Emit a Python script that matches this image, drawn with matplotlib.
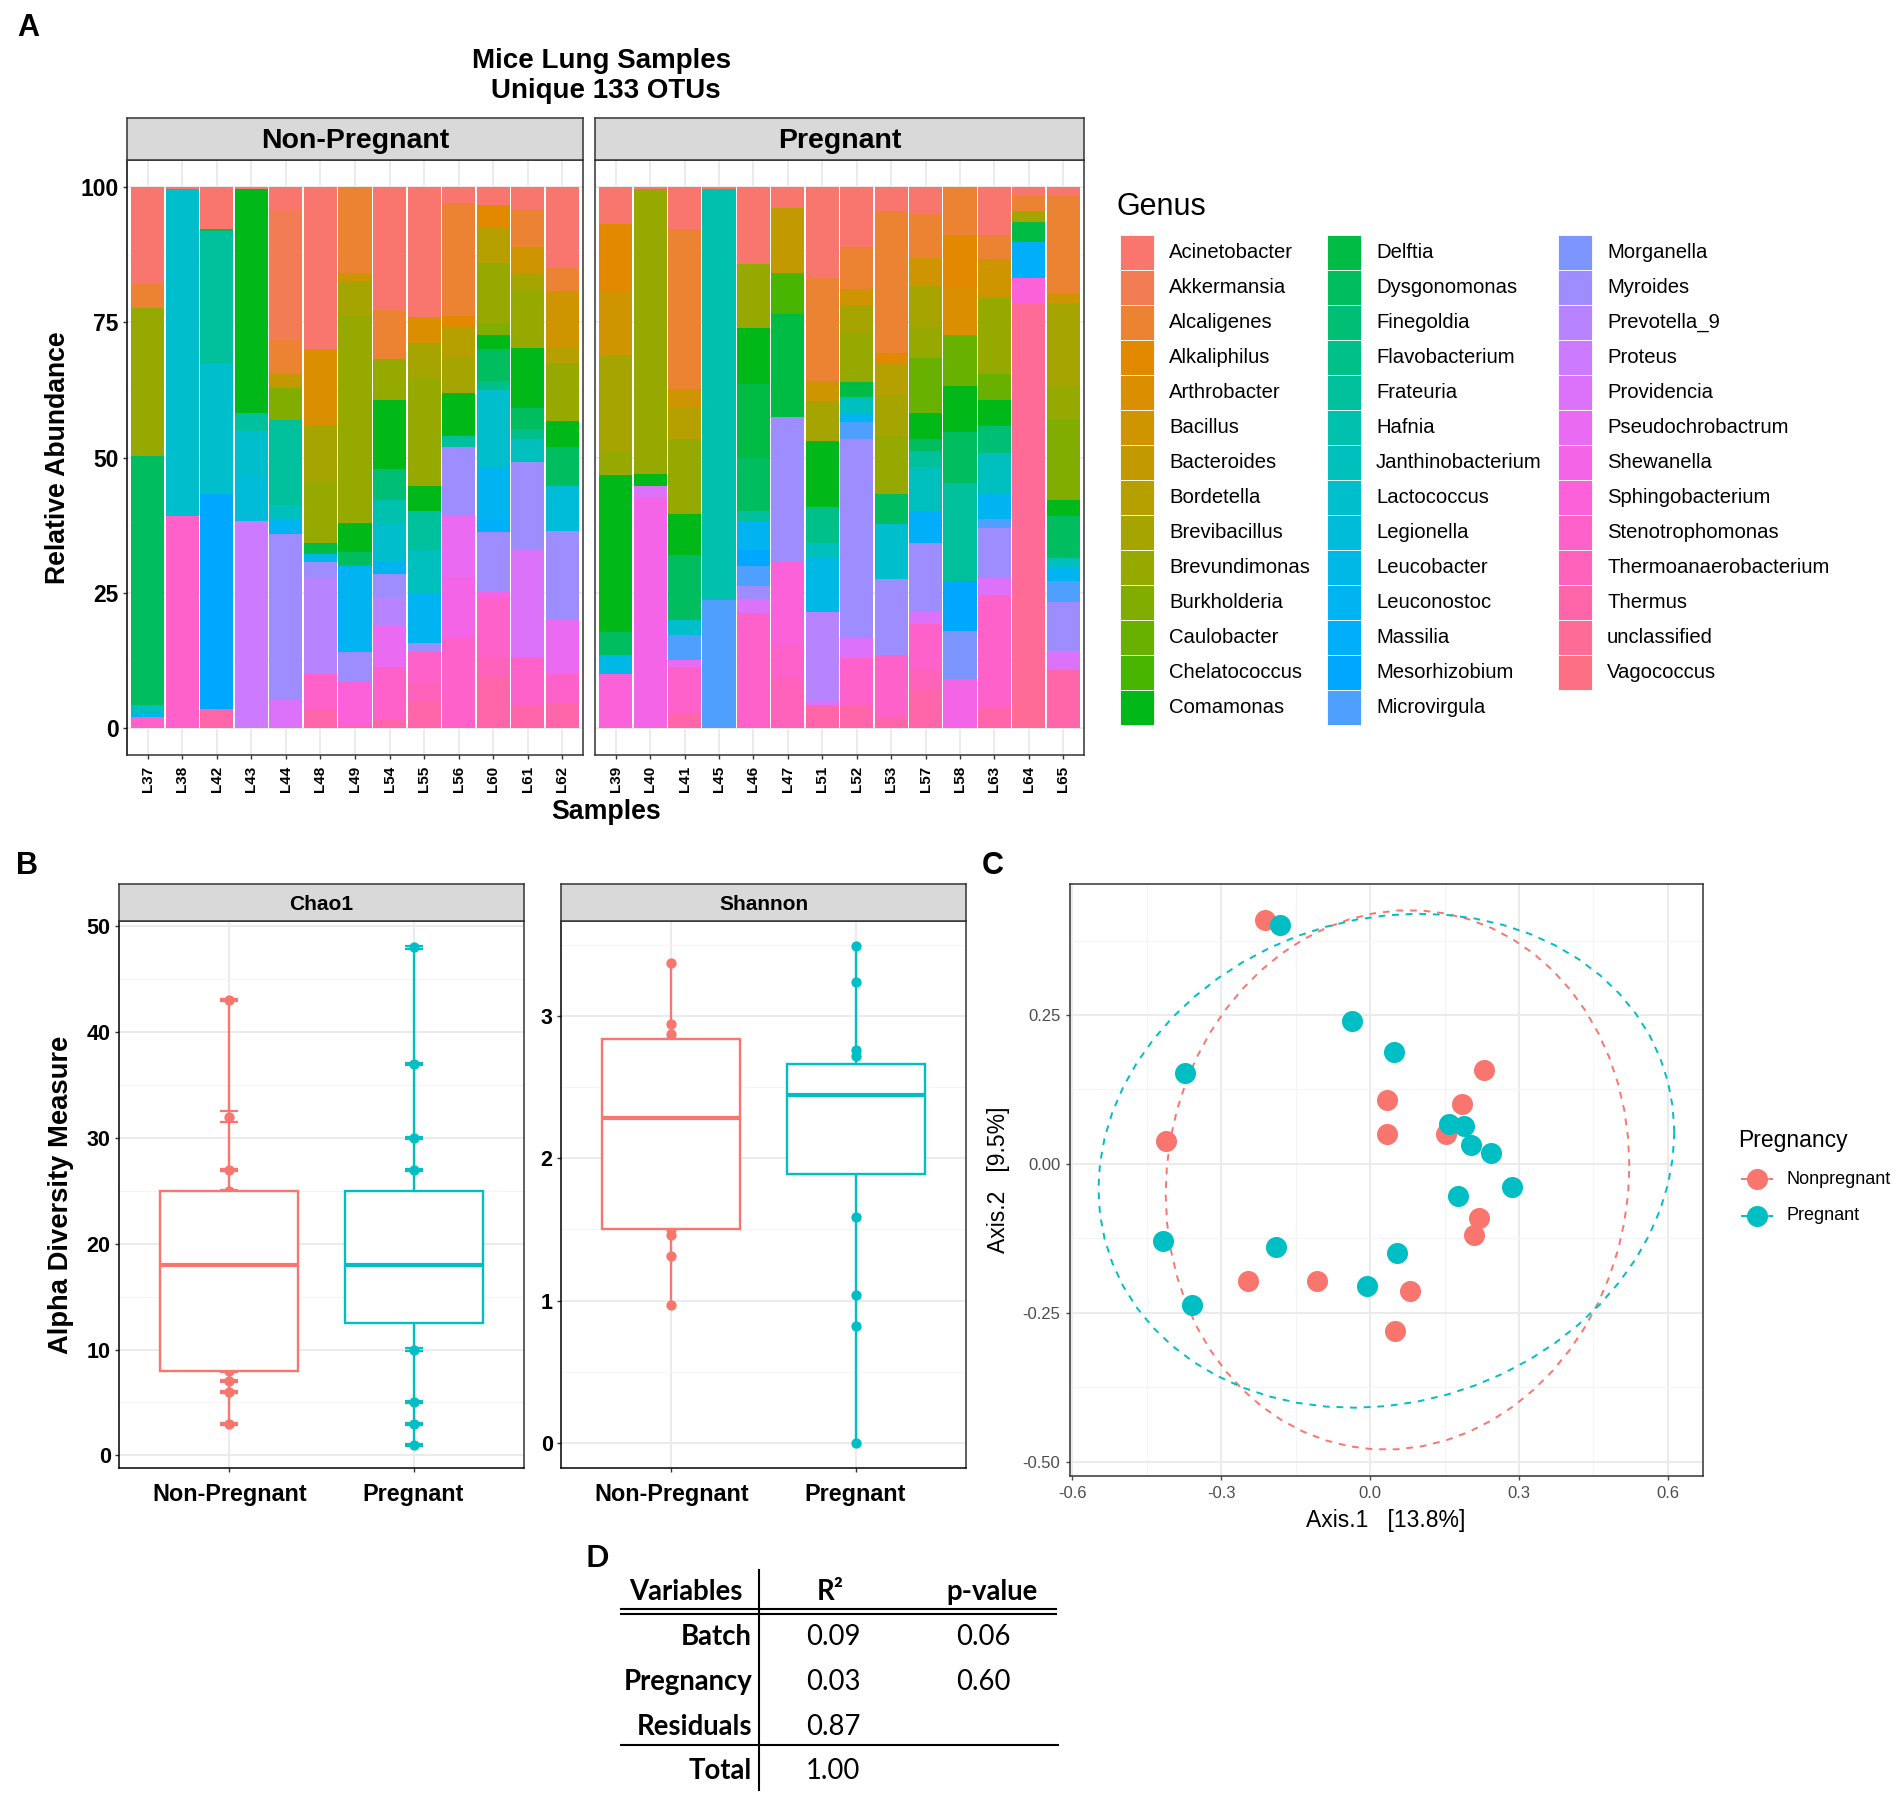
import numpy as np
import matplotlib
matplotlib.use("Agg")
import matplotlib.pyplot as plt
from matplotlib.patches import Rectangle
from matplotlib.ticker import FixedLocator

plt.rcParams['font.family'] = ['Liberation Sans', 'DejaVu Sans']

W, H = 1904, 1796

# ---------------- data ----------------
genera = ["Acinetobacter", "Akkermansia", "Alcaligenes", "Alkaliphilus", "Arthrobacter", "Bacillus",
          "Bacteroides", "Bordetella", "Brevibacillus", "Brevundimonas", "Burkholderia", "Caulobacter",
          "Chelatococcus", "Comamonas", "Delftia", "Dysgonomonas", "Finegoldia", "Flavobacterium",
          "Frateuria", "Hafnia", "Janthinobacterium", "Lactococcus", "Legionella", "Leucobacter",
          "Leuconostoc", "Massilia", "Mesorhizobium", "Microvirgula", "Morganella", "Myroides",
          "Prevotella_9", "Proteus", "Providencia", "Pseudochrobactrum", "Shewanella",
          "Sphingobacterium", "Stenotrophomonas", "Thermoanaerobacterium", "Thermus",
          "unclassified", "Vagococcus"]

samples_np = ["L37", "L38", "L42", "L43", "L44", "L48", "L49", "L54", "L55", "L56", "L60", "L61", "L62"]
samples_p = ["L39", "L40", "L41", "L45", "L46", "L47", "L51", "L52", "L53", "L57", "L58", "L63", "L64", "L65"]

# relative abundance (%) per genus
L37 = {"Acinetobacter": 18.0, "Alcaligenes": 4.3, "Brevundimonas": 27.5, "Dysgonomonas": 46.0,
       "Janthinobacterium": 1.7, "Leuconostoc": 0.5, "Stenotrophomonas": 2.0}
L38 = {"Acinetobacter": 0.3, "Lactococcus": 60.5, "Stenotrophomonas": 39.2}
L42 = {"Acinetobacter": 7.8, "Delftia": 0.3, "Frateuria": 24.4, "Lactococcus": 24.3,
       "Mesorhizobium": 39.7, "Thermus": 3.5}
L43 = {"Acinetobacter": 0.3, "Comamonas": 41.4, "Frateuria": 3.4, "Lactococcus": 8.4,
       "Legionella": 8.2, "Proteus": 38.3}
L44 = {"Acinetobacter": 4.3, "Akkermansia": 24.0, "Alcaligenes": 6.2, "Bacteroides": 2.6,
       "Burkholderia": 5.9, "Frateuria": 15.8, "Janthinobacterium": 2.7, "Leuconostoc": 2.6,
       "Myroides": 30.7, "Providencia": 5.2}
L48 = {"Acinetobacter": 30.0, "Arthrobacter": 14.1, "Brevibacillus": 10.4, "Brevundimonas": 11.3,
       "Delftia": 2.0, "Leucobacter": 1.5, "Myroides": 2.8, "Prevotella_9": 17.9,
       "Stenotrophomonas": 6.7, "Thermus": 3.3}
L49 = {"Alcaligenes": 15.8, "Bacillus": 1.5, "Brevibacillus": 6.5, "Brevundimonas": 38.3,
       "Comamonas": 5.4, "Dysgonomonas": 2.5, "Leuconostoc": 16.0, "Myroides": 5.3,
       "Sphingobacterium": 8.2, "Thermus": 0.5}
L54 = {"Acinetobacter": 22.7, "Alcaligenes": 9.1, "Brevundimonas": 7.5, "Comamonas": 12.8,
       "Finegoldia": 5.7, "Hafnia": 4.3, "Lactococcus": 7.0, "Leuconostoc": 2.4, "Myroides": 4.3,
       "Prevotella_9": 5.3, "Pseudochrobactrum": 7.7, "Stenotrophomonas": 9.7, "Thermus": 1.5}
L55 = {"Acinetobacter": 24.1, "Arthrobacter": 4.7, "Brevibacillus": 6.3, "Brevundimonas": 20.2,
       "Comamonas": 4.5, "Frateuria": 7.3, "Janthinobacterium": 8.2, "Leuconostoc": 9.0,
       "Myroides": 1.7, "Stenotrophomonas": 5.5, "Thermoanaerobacterium": 3.6, "Thermus": 4.9}
L56 = {"Acinetobacter": 2.9, "Alcaligenes": 20.9, "Alkaliphilus": 2.3, "Bordetella": 5.4,
       "Brevibacillus": 6.5, "Comamonas": 8.1, "Frateuria": 2.0, "Myroides": 12.6,
       "Pseudochrobactrum": 11.4, "Shewanella": 11.0, "Stenotrophomonas": 16.9}
L60 = {"Acinetobacter": 3.3, "Alkaliphilus": 4.2, "Bordetella": 6.5, "Brevundimonas": 11.1,
       "Burkholderia": 2.2, "Comamonas": 2.7, "Dysgonomonas": 5.8, "Flavobacterium": 1.7,
       "Lactococcus": 14.3, "Leuconostoc": 9.7, "Massilia": 2.3, "Myroides": 10.9,
       "Shewanella": 1.1, "Stenotrophomonas": 11.0, "Thermoanaerobacterium": 4.0, "Thermus": 9.2}
L61 = {"Acinetobacter": 4.3, "Alcaligenes": 6.8, "Bacillus": 5.0, "Brevibacillus": 2.7,
       "Brevundimonas": 11.0, "Comamonas": 11.0, "Dysgonomonas": 4.0, "Flavobacterium": 1.7,
       "Janthinobacterium": 4.3, "Myroides": 16.3, "Providencia": 19.7, "Stenotrophomonas": 9.2,
       "Thermus": 4.0}
L62 = {"Acinetobacter": 14.9, "Alcaligenes": 4.4, "Bacillus": 10.5, "Bordetella": 2.7,
       "Brevundimonas": 10.8, "Comamonas": 4.8, "Dysgonomonas": 7.2, "Legionella": 8.2,
       "Myroides": 16.3, "Pseudochrobactrum": 10.3, "Stenotrophomonas": 5.4, "Thermus": 4.5}

L39 = {"Acinetobacter": 6.8, "Alkaliphilus": 12.5, "Bacillus": 11.8, "Brevibacillus": 17.7,
       "Brevundimonas": 4.5, "Comamonas": 29.0, "Dysgonomonas": 4.2, "Leucobacter": 3.6,
       "Sphingobacterium": 9.9}
L40 = {"Acinetobacter": 0.3, "Brevundimonas": 52.8, "Comamonas": 2.2, "Providencia": 2.2,
       "Shewanella": 42.5}
L41 = {"Acinetobacter": 7.8, "Alcaligenes": 29.5, "Bacillus": 3.5, "Bordetella": 5.7,
       "Brevundimonas": 14.0, "Comamonas": 7.6, "Dysgonomonas": 12.0, "Lactococcus": 2.7,
       "Microvirgula": 4.7, "Pseudochrobactrum": 1.2, "Stenotrophomonas": 8.6, "Thermus": 2.7}
L45 = {"Acinetobacter": 0.3, "Hafnia": 76.0, "Microvirgula": 23.7}
L46 = {"Acinetobacter": 14.3, "Brevundimonas": 11.8, "Comamonas": 10.4, "Delftia": 13.6,
       "Dysgonomonas": 9.7, "Frateuria": 2.0, "Leuconostoc": 5.3, "Mesorhizobium": 2.9,
       "Microvirgula": 3.8, "Myroides": 2.3, "Providencia": 2.6, "Stenotrophomonas": 21.3}
L47 = {"Acinetobacter": 3.8, "Bacteroides": 12.0, "Chelatococcus": 7.7, "Delftia": 19.0,
       "Myroides": 26.6, "Sphingobacterium": 15.7, "Stenotrophomonas": 6.0,
       "Thermoanaerobacterium": 9.2}
L51 = {"Acinetobacter": 16.8, "Alcaligenes": 19.0, "Bacillus": 3.8, "Brevibacillus": 7.3,
       "Comamonas": 12.2, "Flavobacterium": 6.7, "Janthinobacterium": 2.7, "Leucobacter": 10.0,
       "Prevotella_9": 16.6, "Providencia": 0.7, "Thermus": 4.2}
L52 = {"Acinetobacter": 11.1, "Alcaligenes": 7.8, "Bacillus": 2.9, "Brevibacillus": 5.3,
       "Brevundimonas": 8.9, "Delftia": 2.8, "Janthinobacterium": 3.0, "Leuconostoc": 1.7,
       "Microvirgula": 3.0, "Myroides": 36.8, "Providencia": 3.8, "Stenotrophomonas": 8.9,
       "Thermus": 4.0}
L53 = {"Acinetobacter": 4.5, "Alcaligenes": 26.2, "Alkaliphilus": 2.0, "Bordetella": 5.8,
       "Brevibacillus": 7.5, "Brevundimonas": 10.8, "Dysgonomonas": 5.5, "Lactococcus": 10.2,
       "Myroides": 14.0, "Stenotrophomonas": 11.6, "Thermus": 1.9}
L57 = {"Acinetobacter": 4.9, "Alcaligenes": 8.2, "Bacillus": 5.2, "Brevibacillus": 7.7,
       "Brevundimonas": 5.6, "Caulobacter": 10.1, "Comamonas": 4.8, "Dysgonomonas": 2.3,
       "Frateuria": 3.0, "Janthinobacterium": 8.0, "Massilia": 6.0, "Myroides": 12.7,
       "Providencia": 2.3, "Stenotrophomonas": 8.3, "Thermoanaerobacterium": 3.7, "Thermus": 7.2}
L58 = {"Alcaligenes": 8.8, "Alkaliphilus": 9.7, "Arthrobacter": 8.8, "Caulobacter": 9.4,
       "Comamonas": 8.6, "Dysgonomonas": 9.5, "Frateuria": 18.0, "Mesorhizobium": 9.2,
       "Morganella": 8.9, "Shewanella": 9.1}
L63 = {"Acinetobacter": 8.8, "Alcaligenes": 4.5, "Bacillus": 7.2, "Brevundimonas": 14.0,
       "Caulobacter": 4.8, "Comamonas": 4.8, "Finegoldia": 5.0, "Janthinobacterium": 7.7,
       "Leuconostoc": 4.5, "Microvirgula": 1.8, "Myroides": 8.9, "Providencia": 3.5,
       "Stenotrophomonas": 20.6, "Thermus": 3.9}
L64 = {"Acinetobacter": 1.6, "Alcaligenes": 2.9, "Brevibacillus": 2.0, "Delftia": 3.6,
       "Massilia": 6.8, "Sphingobacterium": 4.6, "unclassified": 78.5}
L65 = {"Acinetobacter": 1.6, "Alcaligenes": 18.2, "Bacillus": 1.7, "Brevibacillus": 15.3,
       "Brevundimonas": 6.0, "Burkholderia": 15.0, "Comamonas": 3.0, "Dysgonomonas": 7.7,
       "Janthinobacterium": 2.0, "Leuconostoc": 2.3, "Microvirgula": 4.0, "Myroides": 9.0,
       "Providencia": 3.5, "Thermus": 10.7}

comp_np = [L37, L38, L42, L43, L44, L48, L49, L54, L55, L56, L60, L61, L62]
comp_p = [L39, L40, L41, L45, L46, L47, L51, L52, L53, L57, L58, L63, L64, L65]

# alpha diversity
groups = ["Non-Pregnant", "Pregnant"]
chao1_np = [3, 6, 7, 8, 10, 14, 18, 20, 22, 25, 27, 32, 43]
chao1_np_se = [0.1, 0.1, 0.1, 0.1, 0.1, 0.1, 0.1, 0.1, 0.1, 0.1, 0.1, 0.5, 0.1]
chao1_p = [1, 3, 5, 10, 15, 16, 17, 18, 19, 21, 23, 27, 30, 37, 48]
chao1_p_se = [0.1] * 15
shannon_np = [0.97, 1.31, 1.46, 1.50, 1.80, 2.00, 2.28, 2.50, 2.70, 2.84, 2.87, 2.94, 3.37]
shannon_p = [0.0, 0.82, 1.04, 1.59, 2.19, 2.25, 2.35, 2.44, 2.50, 2.55, 2.60, 2.72, 2.76, 3.24, 3.49]

# PCoA coordinates
pc_np_x = [-0.211, -0.412, 0.034, 0.034, 0.229, 0.185, 0.153, 0.219, 0.210, -0.246, -0.107, 0.080, 0.050]
pc_np_y = [0.410, 0.039, 0.108, 0.050, 0.157, 0.100, 0.050, -0.091, -0.120, -0.196, -0.196, -0.214, -0.281]
pc_p_x = [-0.181, -0.037, 0.049, -0.374, 0.159, 0.190, 0.204, 0.244, 0.286, 0.178, -0.417, -0.189,
          0.055, -0.006, -0.359]
pc_p_y = [0.401, 0.240, 0.188, 0.152, 0.067, 0.063, 0.032, 0.018, -0.038, -0.054, -0.130, -0.139,
          -0.149, -0.205, -0.237]

# PERMANOVA table
table_vars = ["Batch", "Pregnancy", "Residuals", "Total"]
table_r2 = ["0.09", "0.03", "0.87", "1.00"]
table_p = ["0.06", "0.60", "", ""]


# ---------------- helpers ----------------
def hue_pal(n, c=100, l=65):
    # ggplot2 default discrete palette (hcl, polar Luv)
    hues = np.linspace(15, 375, n + 1)[:-1]
    Xn, Yn, Zn = 95.047, 100.0, 108.883
    un = 4 * Xn / (Xn + 15 * Yn + 3 * Zn)
    vn = 9 * Yn / (Xn + 15 * Yn + 3 * Zn)
    M = np.array([[3.240479, -1.537150, -0.498535],
                  [-0.969256, 1.875992, 0.041556],
                  [0.055648, -0.204043, 1.057311]])
    out = []
    for h in hues:
        hr = np.deg2rad(h)
        U, V = c * np.cos(hr), c * np.sin(hr)
        Y = Yn * ((l + 16) / 116) ** 3
        u = U / (13 * l) + un
        v = V / (13 * l) + vn
        X = 9.0 * Y * u / (4 * v)
        Z = -X / 3 - 5 * Y + 3 * Y / v
        rgb = M @ np.array([X, Y, Z]) / 100
        rgb = np.where(rgb <= 0.0031308, 12.92 * rgb, 1.055 * np.abs(rgb) ** (1 / 2.4) - 0.055)
        out.append(tuple(np.clip(rgb, 0, 1)))
    return out


def ellipse_path(xs, ys, level=0.95, nu=5, segments=61):
    # same as ggplot2::stat_ellipse(type = "t"): MASS::cov.trob + F quantile radius
    pts = np.column_stack([xs, ys])
    n, p = pts.shape
    w = np.ones(n)
    loc = pts.mean(axis=0)
    for _ in range(100):
        w0 = w
        X = pts - loc
        V = (X * (w / w.sum())[:, None]).T @ X
        Q = np.einsum('ij,jk,ik->i', X, np.linalg.inv(V), X)
        w = (nu + p) / (nu + Q)
        loc = (w[:, None] * pts).sum(axis=0) / w.sum()
        if np.all(np.abs(w - w0) < 1e-4):
            break
    cov = (X * w[:, None]).T @ X / n
    d2 = n - 1
    fq = d2 / 2 * ((1 - level) ** (-2 / d2) - 1)
    radius = np.sqrt(2 * fq)
    t = np.linspace(0, 2 * np.pi, segments)
    circle = np.column_stack([np.cos(t), np.sin(t)])
    U = np.linalg.cholesky(cov).T
    e = loc + radius * circle @ U
    return e[:, 0], e[:, 1]


fig = plt.figure(figsize=(W / 100, H / 100), dpi=100)


def px_axes(x0, y0, x1, y1):
    return fig.add_axes([x0 / W, 1 - y1 / H, (x1 - x0) / W, (y1 - y0) / H])


def strip(x0, x1, y0, y1, label, size):
    s = px_axes(x0, y0, x1, y1)
    s.set_facecolor('#D9D9D9')
    s.set_xticks([])
    s.set_yticks([])
    for sp in s.spines.values():
        sp.set_color('#333333')
        sp.set_linewidth(1.1)
    s.text(0.5, 0.45, label, ha='center', va='center', fontsize=size, fontweight='bold',
           transform=s.transAxes)


def bw(ax):
    ax.set_facecolor('white')
    for sp in ax.spines.values():
        sp.set_color('#333333')
        sp.set_linewidth(1.1)
    ax.grid(True, which='major', color='#EBEBEB', linewidth=1.4)
    ax.grid(True, which='minor', color='#F4F4F4', linewidth=0.8)
    ax.set_axisbelow(True)
    ax.tick_params(which='major', color='#333333', length=3, width=1.0)
    ax.tick_params(which='minor', length=0)


pal = hue_pal(len(genera))
gcol = dict(zip(genera, pal))
c_np, c_p = hue_pal(2)

# ---------------- panel A ----------------
def draw_bars(ax, comps):
    x = np.arange(1, len(comps) + 1)
    bottom = np.zeros(len(comps))
    for g in genera[::-1]:
        vals = np.array([c.get(g, 0.0) for c in comps])
        ax.bar(x, vals, width=0.96, bottom=bottom, color=gcol[g], linewidth=0, zorder=2)
        bottom += vals


top_a, bot_a = 160, 755
for names, comps, (x0, x1), lab in [(samples_np, comp_np, (127, 583), "Non-Pregnant"),
                                     (samples_p, comp_p, (595, 1084), "Pregnant")]:
    ax = px_axes(x0, top_a, x1, bot_a)
    bw(ax)
    draw_bars(ax, comps)
    ax.set_xlim(0.4, len(names) + 0.6)
    ax.set_ylim(-5, 105)
    ax.set_xticks(np.arange(1, len(names) + 1))
    ax.set_xticklabels(names, rotation=90, fontsize=11, fontweight='bold', va='top')
    ax.yaxis.set_major_locator(FixedLocator([0, 25, 50, 75, 100]))
    ax.yaxis.set_minor_locator(FixedLocator([12.5, 37.5, 62.5, 87.5]))
    ax.tick_params(axis='x', pad=5)
    if lab == "Non-Pregnant":
        ax.set_yticklabels(["0", "25", "50", "75", "100"], fontsize=16.5, fontweight='bold')
        ax.tick_params(axis='y', pad=3)
        ax.spines['left'].set_color('black')
    else:
        ax.tick_params(axis='y', labelleft=False, length=0)
    strip(x0, x1, 118, top_a, lab, 20.5)

# ---------------- panel B ----------------
top_b, bot_b = 921, 1468


def alpha_panel(x0, x1, vals, ses, ylim, major, minor, label):
    ax = px_axes(x0, top_b, x1, bot_b)
    bw(ax)
    ax.spines['left'].set_color('black')
    ax.spines['bottom'].set_color('black')
    cols = [c_np, c_p]
    for i, (v, col) in enumerate(zip(vals, cols)):
        xs = np.full(len(v), i + 1.0)
        ax.scatter(xs, v, s=55, color=col, zorder=3, linewidths=0)
        if ses is not None:
            ax.errorbar(xs, v, yerr=ses[i], fmt='none', ecolor=col, elinewidth=1.4,
                        capsize=6.6, capthick=1.6, zorder=3)
    bp = ax.boxplot(vals, positions=[1, 2], widths=0.75, whis=(0, 100), patch_artist=True,
                    showfliers=False, showcaps=False)
    for j, (box, col) in enumerate(zip(bp['boxes'], cols)):
        box.set(facecolor='white', edgecolor=col, linewidth=1.7, zorder=4)
        bp['medians'][j].set(color=col, linewidth=3.0, zorder=5)
        for wk in bp['whiskers'][2 * j:2 * j + 2]:
            wk.set(color=col, linewidth=1.7, zorder=2)
    ax.set_xlim(0.4, 2.6)
    ax.set_ylim(*ylim)
    ax.set_xticks([1, 2])
    ax.set_xticklabels(groups, fontsize=16.8, fontweight='bold')
    ax.yaxis.set_major_locator(FixedLocator(major))
    ax.yaxis.set_minor_locator(FixedLocator(minor))
    ax.set_yticklabels([str(m) for m in major], fontsize=15.5, fontweight='bold')
    ax.tick_params(axis='x', pad=8)
    ax.tick_params(axis='y', pad=3)
    strip(x0, x1, 884, top_b, label, 15)
    return ax


alpha_panel(119, 524, [chao1_np, chao1_p], [chao1_np_se, chao1_p_se], (-1.2, 50.5),
            [0, 10, 20, 30, 40, 50], [5, 15, 25, 35, 45], "Chao1")
alpha_panel(561, 966, [shannon_np, shannon_p], None, (-0.175, 3.665),
            [0, 1, 2, 3], [0.5, 1.5, 2.5, 3.5], "Shannon")

# ---------------- panel C ----------------
axc = px_axes(1070, 884, 1703, 1476)
bw(axc)
for xs, ys, col in [(pc_np_x, pc_np_y, c_np), (pc_p_x, pc_p_y, c_p)]:
    ex, ey = ellipse_path(xs, ys)
    axc.plot(ex, ey, color=col, linestyle=(0, (3.5, 3.5)), linewidth=1.4, zorder=2)
for xs, ys, col in [(pc_np_x, pc_np_y, c_np), (pc_p_x, pc_p_y, c_p)]:
    axc.scatter(xs, ys, s=230, color=col, linewidths=0, zorder=3)
axc.set_xlim(-0.605, 0.671)
axc.set_ylim(-0.524, 0.470)
axc.xaxis.set_major_locator(FixedLocator([-0.6, -0.3, 0.0, 0.3, 0.6]))
axc.xaxis.set_minor_locator(FixedLocator([-0.45, -0.15, 0.15, 0.45]))
axc.yaxis.set_major_locator(FixedLocator([-0.5, -0.25, 0.0, 0.25]))
axc.yaxis.set_minor_locator(FixedLocator([-0.375, -0.125, 0.125, 0.375]))
axc.set_xticklabels(["-0.6", "-0.3", "0.0", "0.3", "0.6"], fontsize=12, color='#4D4D4D')
axc.set_yticklabels(["-0.50", "-0.25", "0.00", "0.25"], fontsize=12, color='#4D4D4D')
axc.tick_params(which='major', color='#4D4D4D', pad=4)

# ---------------- text, legends, table ----------------
ov = fig.add_axes([0, 0, 1, 1])
ov.set_xlim(0, W)
ov.set_ylim(H, 0)
ov.axis('off')

for lab, (x, y) in {"A": (28, 28), "B": (27, 866), "C": (993, 866)}.items():
    ov.text(x, y, lab, ha='center', va='center', fontsize=22, fontweight='bold')

ov.text(602, 61, "Mice Lung Samples", ha='center', va='center', fontsize=20, fontweight='bold')
ov.text(606, 91, "Unique 133 OTUs", ha='center', va='center', fontsize=20, fontweight='bold')
ov.text(58, 458, "Relative Abundance", ha='center', va='center', rotation=90, fontsize=19.2,
        fontweight='bold')
ov.text(606, 812, "Samples", ha='center', va='center', fontsize=19.3, fontweight='bold')
ov.text(61, 1195, "Alpha Diversity Measure", ha='center', va='center', rotation=90, fontsize=19.7,
        fontweight='bold')
ov.text(1386, 1520, "Axis.1   [13.8%]", ha='center', va='center', fontsize=16.5, color='black')
ov.text(998, 1180, "Axis.2   [9.5%]", ha='center', va='center', rotation=90, fontsize=16.5,
        color='black')

# genus legend
ov.text(1117, 207, "Genus", ha='left', va='center', fontsize=22)
key_x = [1120, 1327, 1558]
for i, g in enumerate(genera):
    col_i, row_i = i // 14, i % 14
    kx, ky = key_x[col_i], 235 + 35 * row_i
    ov.add_patch(Rectangle((kx, ky), 34, 35, facecolor=gcol[g], edgecolor='white', linewidth=0.6))
    ov.text(kx + 49, ky + 17.5, g, ha='left', va='center', fontsize=14.6)

# pregnancy legend
ov.text(1738, 1140, "Pregnancy", ha='left', va='center', fontsize=16.5)
for lab, col, y in [("Nonpregnant", c_np, 1179), ("Pregnant", c_p, 1216)]:
    ov.plot([1741, 1773], [y, y], color=col, linestyle=(0, (3.5, 3.5)), linewidth=1.4)
    ov.scatter([1757], [y], s=230, color=col, linewidths=0, zorder=3)
    ov.text(1786, y, lab, ha='left', va='center', fontsize=13)

# table D
tf = ['Lato', 'DejaVu Sans']
ts = 19.8
ov.text(597, 1558, "D", ha='center', va='center', fontsize=22, fontweight='bold', family=tf)
ov.text(686, 1592, "Variables", ha='center', va='center', fontsize=ts, fontweight='bold', family=tf)
ov.text(830, 1592, "R\u00b2", ha='center', va='center', fontsize=ts, fontweight='bold', family=tf)
ov.text(992, 1592, "p-value", ha='center', va='center', fontsize=ts, fontweight='bold', family=tf)
ov.plot([759, 759], [1570, 1790], color='black', linewidth=1.5)
ov.plot([621, 1056], [1609, 1609], color='black', linewidth=1.5)
ov.plot([621, 1056], [1614, 1614], color='black', linewidth=1.5)
ov.plot([621, 1058], [1745, 1745], color='black', linewidth=1.5)
for k, (v, r2, pv) in enumerate(zip(table_vars, table_r2, table_p)):
    y = [1637, 1682, 1727, 1771][k]
    ov.text(752, y, v, ha='right', va='center', fontsize=ts, fontweight='bold', family=tf)
    ov.text(833, y, r2, ha='center', va='center', fontsize=ts, family=tf)
    if pv:
        ov.text(983, y, pv, ha='center', va='center', fontsize=ts, family=tf)

fig.savefig("out.png", dpi=100)
